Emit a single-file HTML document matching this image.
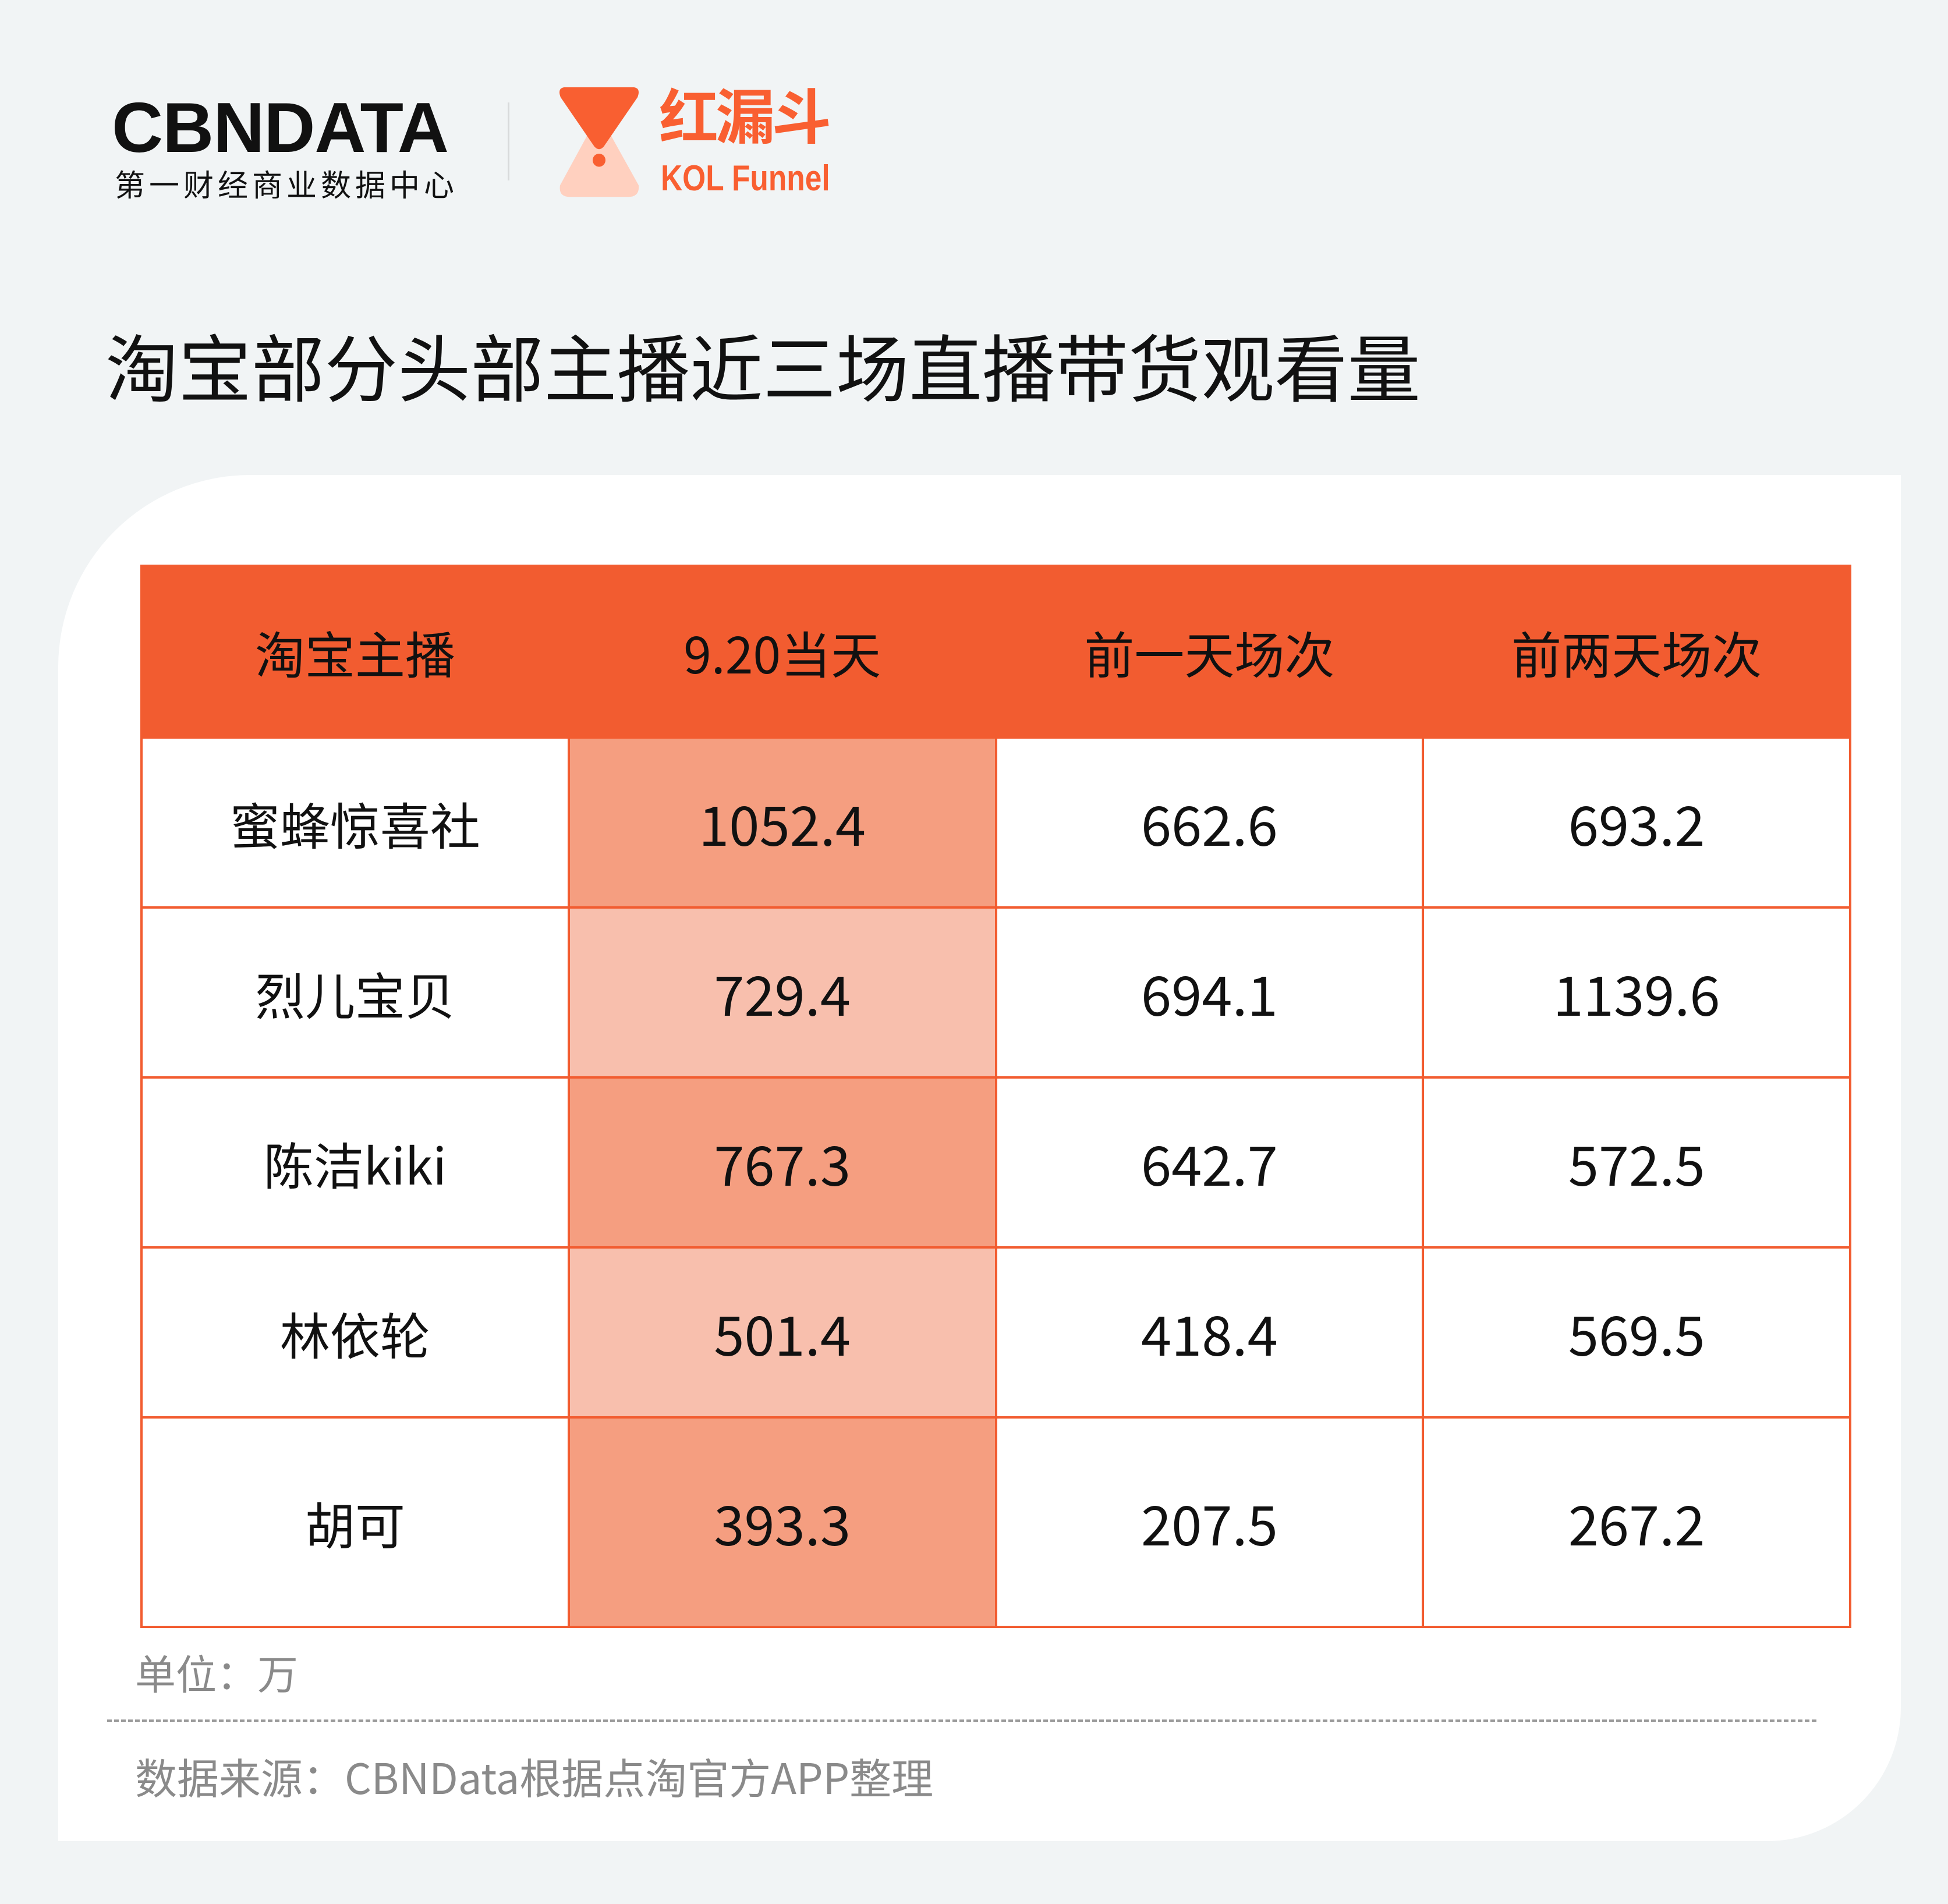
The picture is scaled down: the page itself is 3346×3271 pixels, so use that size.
<!DOCTYPE html>
<html><head><meta charset="utf-8"><style>
*{margin:0;padding:0;box-sizing:border-box}
body{width:3346px;height:3271px;background:#F1F4F5;position:relative;overflow:hidden;font-family:"Liberation Sans","Noto Sans CJK SC",sans-serif;color:#111}
.abs{position:absolute}
table{position:absolute;left:241px;top:970px;width:2939px;border-collapse:collapse;table-layout:fixed;font-family:"Noto Sans CJK SC",sans-serif}
td,th{border:4px solid #F25C30;text-align:center;font-weight:400;font-size:86px;color:#111}
td.n{font-size:94px}
th{background:#F25C30;height:295px}
tr.r td{height:292px}
tr.last td{height:360px}
.hd{background:#F59E80}
.lt{background:#F8BFAD}
td.w{background:#fff}
</style></head><body>
<div class="abs" style="left:192px;top:158px;font-size:122px;font-weight:700;letter-spacing:-1px;line-height:1">CBNDATA</div>
<div class="abs" style="left:197px;top:294px;font-size:52px;letter-spacing:7px;line-height:1">第一财经商业数据中心</div>
<div class="abs" style="left:872px;top:176px;width:3px;height:134px;background:#d8dadb"></div>
<svg class="abs" style="left:959px;top:150px" width="140" height="190" viewBox="0 0 140 220" preserveAspectRatio="none">
<path d="M90 95 L138 195 Q140 218 120 218 L20 218 Q0 218 3 195 L50 95 Z" fill="#FFD0BF"/>
<path d="M10 0 L130 0 Q142 2 136 20 L78 118 Q70 128 62 118 L4 20 Q-2 2 10 0 Z" fill="#F95F31"/>
<ellipse cx="70" cy="145" rx="11" ry="13" fill="#F95F31"/>
</svg>
<div class="abs" style="left:1132px;top:152px;font-size:102px;font-weight:700;color:#F95F31;line-height:1;letter-spacing:-5px">红漏斗</div>
<div class="abs" style="left:1135px;top:276px;font-size:62px;font-weight:700;color:#F95F31;line-height:1;transform:scaleX(0.83);transform-origin:left top">KOL Funnel</div>
<div class="abs" style="left:181px;top:568px;font-size:125.5px;line-height:1.1;color:#111">淘宝部分头部主播近三场直播带货观看量</div>
<div class="abs" style="left:100px;top:816px;width:3165px;height:2347px;background:#fff;border-radius:330px 0 230px 0"></div>
<table>
<tr><th>淘宝主播</th><th>9.20当天</th><th>前一天场次</th><th>前两天场次</th></tr>
<tr class="r"><td class="w">蜜蜂惊喜社</td><td class="hd n">1052.4</td><td class="w n">662.6</td><td class="w n">693.2</td></tr>
<tr class="r"><td class="w">烈儿宝贝</td><td class="lt n">729.4</td><td class="w n">694.1</td><td class="w n">1139.6</td></tr>
<tr class="r"><td class="w">陈洁kiki</td><td class="hd n">767.3</td><td class="w n">642.7</td><td class="w n">572.5</td></tr>
<tr class="r"><td class="w">林依轮</td><td class="lt n">501.4</td><td class="w n">418.4</td><td class="w n">569.5</td></tr>
<tr class="last"><td class="w">胡可</td><td class="hd n">393.3</td><td class="w n">207.5</td><td class="w n">267.2</td></tr>
</table>
<div class="abs" style="left:232px;top:2838px;font-size:70px;color:#8a8a8a;line-height:1;font-family:'Noto Sans CJK SC',sans-serif">单位：万</div>
<div class="abs" style="left:184px;top:2954px;width:2936px;border-top:4px dashed #9a9a9a"></div>
<div class="abs" style="left:232px;top:3015px;font-size:72px;color:#8a8a8a;line-height:1;font-family:'Noto Sans CJK SC',sans-serif">数据来源：CBNData根据点淘官方APP整理</div>
</body></html>
